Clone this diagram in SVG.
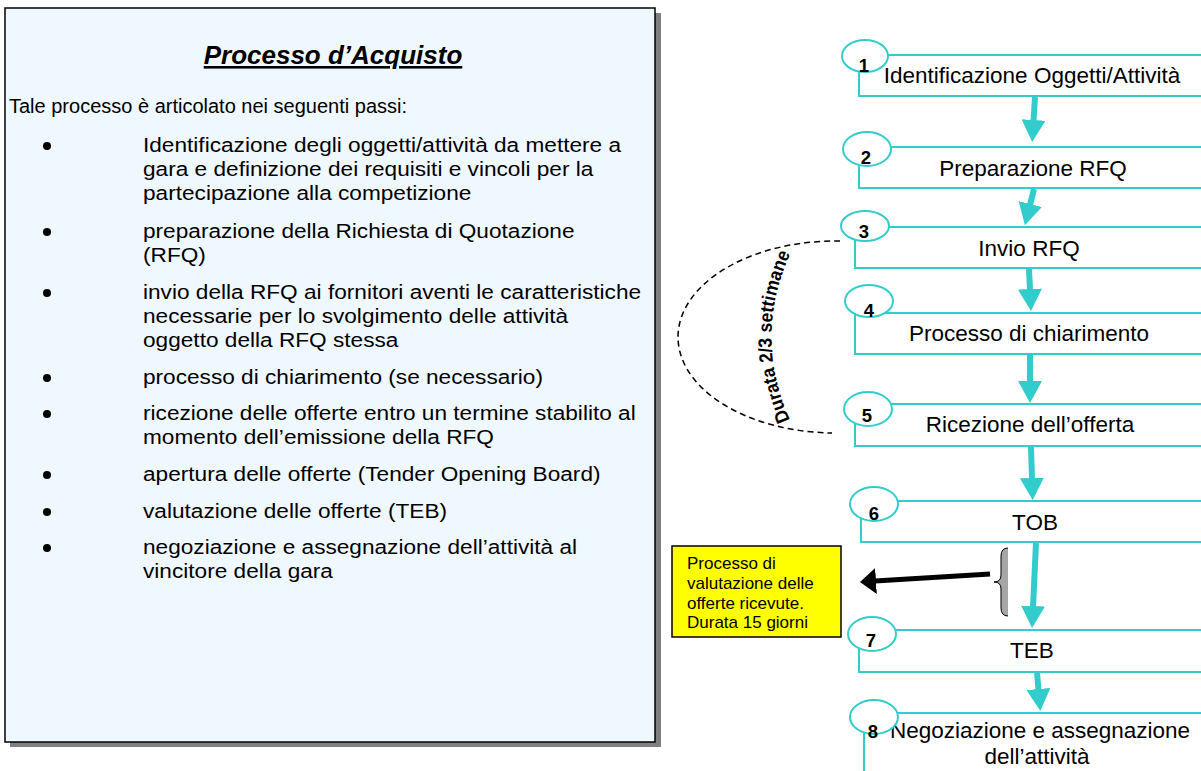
<svg xmlns="http://www.w3.org/2000/svg" width="1201" height="771" viewBox="0 0 1201 771">
<style>
.t{font-family:"Liberation Sans",Arial,sans-serif;fill:#000}
.box{fill:#fff;stroke:#33CCCC;stroke-width:2}
.oval{fill:#fff;stroke:#33CCCC;stroke-width:2}
.num{font-family:"Liberation Sans",Arial,sans-serif;font-weight:bold;font-size:18.5px;text-anchor:middle}
.lbl{font-family:"Liberation Sans",Arial,sans-serif;font-size:22.5px;text-anchor:middle}
.bul{font-family:"Liberation Sans",Arial,sans-serif;font-size:21px}
.flow{stroke:#33CCCC;stroke-width:6;fill:none;marker-end:url(#tealHead)}
</style>
<defs>
<marker id="tealHead" markerUnits="userSpaceOnUse" viewBox="0 0 22 24" markerWidth="22" markerHeight="24" refX="1" refY="12" orient="auto">
<path d="M0,0 L22,12 L0,24 z" fill="#33CCCC"/>
</marker>
<marker id="blackHead" markerUnits="userSpaceOnUse" viewBox="0 0 16 26" markerWidth="16" markerHeight="26" refX="1" refY="13" orient="auto">
<path d="M0,0 L16,13 L0,26 z" fill="#000"/>
</marker>
</defs>

<g id="panel">
<rect x="10" y="13" width="651" height="734" fill="#808080"/>
<rect x="5" y="8" width="650" height="734" fill="#F0F8FF" stroke="#000" stroke-width="1.5"/>
<text class="t" x="333" y="64" text-anchor="middle" font-size="26" font-weight="bold" font-style="italic" text-decoration="underline">Processo d’Acquisto</text>
<text class="t" x="9" y="113" font-size="20">Tale processo è articolato nei seguenti passi:</text>
<g fill="#000">
<circle cx="47" cy="146" r="4"/>
<circle cx="47" cy="232" r="4"/>
<circle cx="47" cy="293" r="4"/>
<circle cx="47" cy="378" r="4"/>
<circle cx="47" cy="414" r="4"/>
<circle cx="47" cy="475" r="4"/>
<circle cx="47" cy="512" r="4"/>
<circle cx="47" cy="548" r="4"/>
</g>
<g transform="translate(143,0) scale(1.078,1)">
<text class="bul" x="0" y="152">Identificazione degli oggetti/attività da mettere a</text>
<text class="bul" x="0" y="176">gara e definizione dei requisiti e vincoli per la</text>
<text class="bul" x="0" y="200">partecipazione alla competizione</text>
<text class="bul" x="0" y="238">preparazione della Richiesta di Quotazione</text>
<text class="bul" x="0" y="262">(RFQ)</text>
<text class="bul" x="0" y="299">invio della RFQ ai fornitori aventi le caratteristiche</text>
<text class="bul" x="0" y="323">necessarie per lo svolgimento delle attività</text>
<text class="bul" x="0" y="347">oggetto della RFQ stessa</text>
<text class="bul" x="0" y="384">processo di chiarimento (se necessario)</text>
<text class="bul" x="0" y="420">ricezione delle offerte entro un termine stabilito al</text>
<text class="bul" x="0" y="444">momento dell’emissione della RFQ</text>
<text class="bul" x="0" y="481">apertura delle offerte (Tender Opening Board)</text>
<text class="bul" x="0" y="518">valutazione delle offerte (TEB)</text>
<text class="bul" x="0" y="554">negoziazione e assegnazione dell’attività al</text>
<text class="bul" x="0" y="578">vincitore della gara</text>
</g>
</g>

<g id="connectors">
<line class="flow" x1="1035" y1="97" x2="1033.5" y2="121"/>
<line class="flow" x1="1034" y1="189" x2="1030" y2="205"/>
<line class="flow" x1="1029" y1="269" x2="1030" y2="290"/>
<line class="flow" x1="1030" y1="355" x2="1030" y2="382"/>
<line class="flow" x1="1031" y1="447" x2="1032" y2="479"/>
<line class="flow" x1="1036" y1="543" x2="1033" y2="607"/>
<line class="flow" x1="1037" y1="673" x2="1038.5" y2="690"/>
<line x1="990" y1="574" x2="875" y2="581" stroke="#000" stroke-width="5" marker-end="url(#blackHead)"/>
<path d="M840,241 A158,96 0 0 0 832,433" fill="none" stroke="#000" stroke-width="1.5" stroke-dasharray="6,4"/>
</g>

<g id="duration-label">
<path id="arcText" d="M790,420 Q752,335 792,250" fill="none"/>
<text font-family="'Liberation Sans',Arial,sans-serif" font-weight="bold" font-size="19"><textPath href="#arcText" textLength="172" lengthAdjust="spacingAndGlyphs">Durata 2/3 settimane</textPath></text>
</g>

<g id="brace">
<path d="M1008,548 Q1001,548 1001,556 L1001,575 Q1001,582 994,582 Q1001,582 1001,589 L1001,608 Q1001,616 1008,616 Z" fill="#A6A6A6"/>
<path d="M1008,548 Q1001,548 1001,556 L1001,575 Q1001,582 994,582 Q1001,582 1001,589 L1001,608 Q1001,616 1008,616" fill="none" stroke="#000" stroke-width="1"/>
</g>

<g id="note">
<rect x="672" y="546" width="169" height="91" fill="#FFFF00" stroke="#000" stroke-width="1.5"/>
<text class="t" font-size="17" x="687" y="569">Processo di</text>
<text class="t" font-size="17" x="687" y="589">valutazione delle</text>
<text class="t" font-size="17" x="687" y="609">offerte ricevute.</text>
<text class="t" font-size="17" x="687" y="628">Durata 15 giorni</text>
</g>

<g id="step1">
<rect class="box" x="859" y="55" width="400" height="41"/>
<text class="lbl" x="1032" y="83">Identificazione Oggetti/Attività</text>
<ellipse class="oval" cx="865" cy="56" rx="23" ry="16"/>
<text class="num" x="864" y="72">1</text>
</g>
<g id="step2">
<rect class="box" x="859" y="147" width="400" height="41"/>
<text class="lbl" x="1033" y="176">Preparazione RFQ</text>
<ellipse class="oval" cx="867" cy="149" rx="24" ry="17"/>
<text class="num" x="866" y="164">2</text>
</g>
<g id="step3">
<rect class="box" x="855" y="227" width="400" height="41"/>
<text class="lbl" x="1029" y="256">Invio RFQ</text>
<ellipse class="oval" cx="865" cy="226" rx="24" ry="15"/>
<text class="num" x="864" y="238">3</text>
</g>
<g id="step4">
<rect class="box" x="855" y="313" width="400" height="41"/>
<text class="lbl" x="1029" y="341">Processo di chiarimento</text>
<ellipse class="oval" cx="869" cy="301" rx="24" ry="16"/>
<text class="num" x="869" y="317">4</text>
</g>
<g id="step5">
<rect class="box" x="855" y="404" width="400" height="42"/>
<text class="lbl" x="1030" y="432">Ricezione dell’offerta</text>
<ellipse class="oval" cx="868" cy="409" rx="24" ry="17"/>
<text class="num" x="867" y="422">5</text>
</g>
<g id="step6">
<rect class="box" x="861" y="501" width="400" height="41"/>
<text class="lbl" x="1035" y="530">TOB</text>
<ellipse class="oval" cx="874" cy="504" rx="24" ry="17"/>
<text class="num" x="874" y="520">6</text>
</g>
<g id="step7">
<rect class="box" x="859" y="630" width="400" height="42"/>
<text class="lbl" x="1032" y="658">TEB</text>
<ellipse class="oval" cx="872" cy="634" rx="24" ry="17"/>
<text class="num" x="871" y="647">7</text>
</g>
<g id="step8">
<path class="box" d="M864,790 V713 H1260"/>
<text class="lbl" x="1040" y="738">Negoziazione e assegnazione</text>
<text class="lbl" x="1037" y="764">dell’attività</text>
<ellipse class="oval" cx="874" cy="717" rx="24" ry="17"/>
<text class="num" x="873" y="738">8</text>
</g>
</svg>
